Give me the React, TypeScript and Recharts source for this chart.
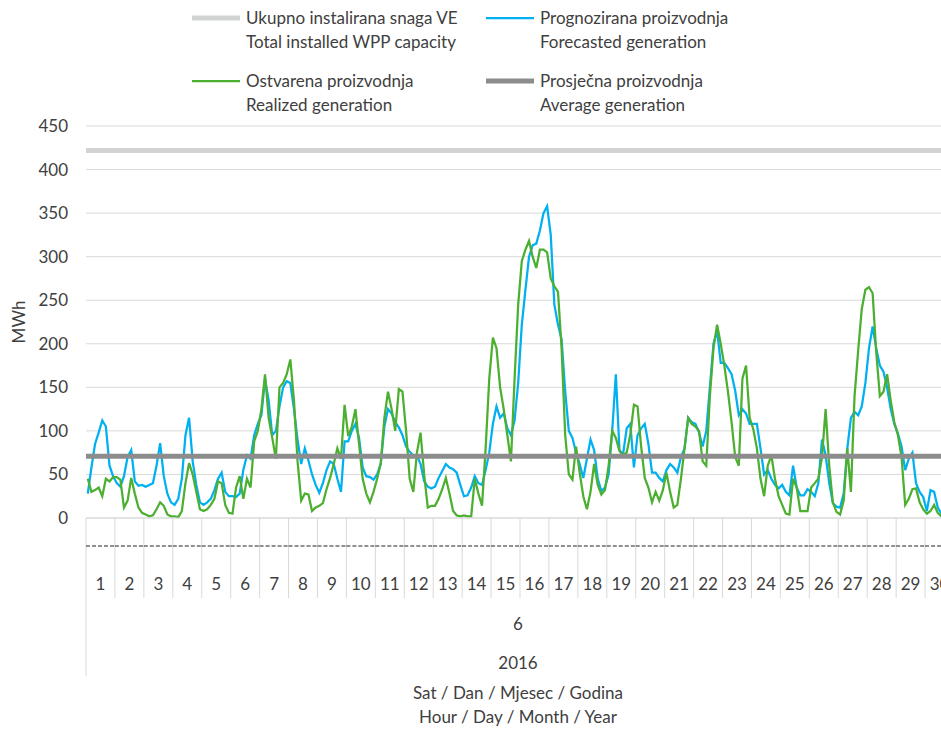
import { LineChart, Line, XAxis, YAxis, CartesianGrid, ReferenceLine, Legend } from "recharts";

// y axis ticks (MWh)
const yTicks = [0, 50, 100, 150, 200, 250, 300, 350, 400, 450];

// category levels of the x axis: day / month / year
const dayLabels = [
  "1", "2", "3", "4", "5", "6", "7", "8", "9", "10",
  "11", "12", "13", "14", "15", "16", "17", "18", "19", "20",
  "21", "22", "23", "24", "25", "26", "27", "28", "29", "30",
];
const monthLabel = "6";
const yearLabel = "2016";

const installedCapacity = 422;
const averageGeneration = 71;

// forecasted generation, one value per 3 hours (8 per day), June 2016
const forecast = [
  28, 58, 85, 98, 112, 105, 60, 48,
  40, 36, 48, 70, 78, 42, 37, 38,
  36, 38, 40, 60, 86, 48, 28, 18,
  15, 22, 45, 95, 115, 65, 38, 18,
  15, 18, 22, 32, 45, 52, 30, 25,
  25, 24, 28, 55, 72, 68, 95, 108,
  118, 160, 135, 95, 100, 128, 150, 157,
  155, 125, 90, 62, 80, 66, 50, 38,
  29, 40, 55, 65, 62, 45, 30, 88,
  88, 100, 108, 92, 58, 48, 47, 44,
  50, 62, 105, 125, 120, 110, 104, 95,
  82, 76, 72, 72, 62, 42, 36, 34,
  36, 46, 54, 62, 58, 56, 52, 38,
  25, 26, 35, 48, 40, 38, 55, 75,
  108, 128, 115, 120, 103, 95, 112, 155,
  222, 262, 300, 313, 315, 330, 350, 358,
  325, 245, 222, 205, 145, 100, 92, 75,
  62, 46, 68, 90, 78, 45, 31, 35,
  50, 100, 165, 78, 73, 103, 108, 58,
  95, 103, 108, 85, 52, 52, 46, 42,
  55, 62, 58, 52, 70, 80, 115, 110,
  108, 98, 82, 100, 150, 200, 215, 178,
  178, 172, 165, 146, 118, 125, 120, 108,
  108, 108, 80, 50, 55, 45, 38, 34,
  38, 30, 26, 60, 35, 26, 26, 33,
  30, 25, 40, 90, 72, 40, 17, 13,
  12, 28, 80, 115, 122, 118, 128, 155,
  195, 220, 195, 175, 168, 150, 125, 108,
  97, 82, 55, 68, 75, 40, 30, 24,
  8, 32, 30, 12, 5, 8, 10, 12,
];

// realized generation, same resolution
const realized = [
  45, 30, 32, 35, 25, 45, 42, 47,
  47, 44, 12, 20, 46, 28, 12, 6,
  4, 2, 3, 10, 18, 14, 4, 2,
  2, 1, 8, 40, 63, 50, 30, 10,
  8, 10, 15, 22, 42, 40, 15, 6,
  5, 35, 48, 22, 45, 35, 88, 100,
  125, 165, 115, 92, 68, 150, 155, 165,
  182, 135, 65, 20, 28, 27, 8, 12,
  14, 17, 33, 46, 62, 80, 68, 130,
  94, 105, 125, 85, 45, 28, 18, 30,
  45, 63, 115, 145, 125, 100, 148, 145,
  100, 45, 30, 75, 98, 50, 12, 14,
  14, 22, 33, 46, 28, 8, 3, 2,
  3, 2, 2, 45, 28, 14, 80, 160,
  207, 195, 150, 125, 95, 65, 160, 245,
  295, 308, 318, 300, 287, 308, 308, 305,
  275, 266, 260, 195, 95, 50, 44, 82,
  52, 25, 10, 30, 62, 38, 27, 32,
  60, 100, 92, 77, 72, 75, 96, 130,
  128, 82, 46, 35, 18, 30, 20, 32,
  52, 30, 12, 15, 45, 80, 115, 108,
  105, 100, 65, 60, 140, 195, 222, 200,
  175, 145, 110, 70, 60, 160, 175, 115,
  102, 80, 45, 25, 60, 72, 45, 25,
  15, 5, 4, 45, 35, 8, 8, 8,
  35, 40, 45, 70, 125, 60, 18, 7,
  4, 20, 80, 30, 140, 192, 240, 262,
  265, 258, 190, 140, 145, 165, 135, 110,
  95, 70, 15, 22, 33, 34, 18, 10,
  5, 8, 15, 6, 2, 3, 5, 6,
];

const legendItems = [
  { hr: "Ukupno instalirana snaga VE", en: "Total installed WPP capacity", color: "#d1d3d4", w: 5 },
  { hr: "Prognozirana proizvodnja", en: "Forecasted generation", color: "#00b0f0", w: 2.25 },
  { hr: "Ostvarena proizvodnja", en: "Realized generation", color: "#4caf30", w: 2.25 },
  { hr: "Prosječna proizvodnja", en: "Average generation", color: "#8c8c8c", w: 5 },
];

const FONT = "Lato, 'Open Sans', sans-serif";
const TEXT = "#404040";
const GRID = "#d9d9d9";

const CHART_W = 975;
const CHART_H = 729;
const MARGIN = { top: 126, right: 21, bottom: 11, left: 0 };
const Y_AXIS_W = 86;
const X_AXIS_H = 200;
const HOURS = dayLabels.length * 24;
const DAY_W = (CHART_W - MARGIN.left - MARGIN.right - Y_AXIS_W) / dayLabels.length;

const data = forecast.map((v, i) => ({ t: i * 3 + 1.5, forecast: v, realized: realized[i] }));
const dayBounds = dayLabels.map((_, i) => i * 24).concat(HOURS);

function DayTick(props: any) {
  const { x, y, payload, index } = props;
  const first = payload.value === 0;
  const last = payload.value === HOURS;
  return (
    <g>
      <line x1={x} x2={x} y1={y} y2={y + (first ? 158 : 80)} stroke={GRID} strokeWidth={1} />
      {!last && (
        <>
          <line x1={x} x2={x + DAY_W} y1={y + 28} y2={y + 28} stroke="#222" strokeWidth={1} strokeDasharray="4 2" />
          <text x={x + DAY_W / 2} y={y + 65} textAnchor="middle" dominantBaseline="central"
            fill={TEXT} fontSize={17} fontFamily={FONT}>
            {dayLabels[index]}
          </text>
        </>
      )}
    </g>
  );
}

function XAxisTitle(props: any) {
  const vb = props.viewBox || {};
  const cx = (vb.x ?? Y_AXIS_W) + (vb.width ?? DAY_W * 30) / 2 - 2;
  const top = vb.y ?? CHART_H - MARGIN.bottom - X_AXIS_H;
  const t = { textAnchor: "middle" as const, dominantBaseline: "central" as const, fill: TEXT, fontSize: 17, fontFamily: FONT };
  return (
    <g>
      <text x={cx} y={top + 105} {...t}>{monthLabel}</text>
      <text x={cx} y={top + 144} {...t}>{yearLabel}</text>
      <text x={cx} y={top + 174} {...t}>Sat / Dan / Mjesec / Godina</text>
      <text x={cx} y={top + 198} {...t}>Hour / Day / Month / Year</text>
    </g>
  );
}

function YAxisTitle(props: any) {
  const vb = props.viewBox || {};
  const cy = (vb.y ?? MARGIN.top) + (vb.height ?? 392) / 2;
  return (
    <text x={18} y={cy} transform={`rotate(-90, 18, ${cy})`} textAnchor="middle" dominantBaseline="central"
      fill={TEXT} fontSize={17} fontFamily={FONT}>
      MWh
    </text>
  );
}

function LegendBox() {
  const pos = [
    { left: 192, top: 6 },
    { left: 486, top: 6 },
    { left: 192, top: 69 },
    { left: 486, top: 69 },
  ];
  return (
    <div style={{ position: "relative", width: 941, height: 120, fontFamily: FONT, fontSize: 17, color: TEXT }}>
      {legendItems.map((item, i) => (
        <div key={item.hr} style={{ position: "absolute", left: pos[i].left, top: pos[i].top, display: "flex" }}>
          <svg width={48} height={24} style={{ display: "block", marginRight: 6 }}>
            <line x1={0} x2={48} y1={12} y2={12} stroke={item.color} strokeWidth={item.w} />
          </svg>
          <div style={{ lineHeight: "24px", whiteSpace: "nowrap" }}>
            <div>{item.hr}</div>
            <div>{item.en}</div>
          </div>
        </div>
      ))}
    </div>
  );
}

export default function App() {
  return (
    <div style={{ position: "absolute", left: 0, top: 0, width: 941, height: 729, overflow: "hidden", background: "#fff" }}>
      <LineChart width={CHART_W} height={CHART_H} data={data} margin={MARGIN}>
        <CartesianGrid horizontal vertical={false} stroke={GRID} />
        <XAxis
          dataKey="t"
          type="number"
          domain={[0, HOURS]}
          ticks={dayBounds}
          interval={0}
          height={X_AXIS_H}
          tickSize={0}
          tickMargin={0}
          tickLine={false}
          axisLine={{ stroke: GRID }}
          tick={<DayTick />}
          label={<XAxisTitle />}
          allowDataOverflow
        />
        <YAxis
          width={Y_AXIS_W}
          domain={[0, 450]}
          ticks={yTicks}
          interval={0}
          tickLine={false}
          axisLine={false}
          tickMargin={12}
          tick={{ fill: TEXT, fontSize: 17, fontFamily: FONT }}
          label={<YAxisTitle />}
        />
        <Legend
          content={<LegendBox />}
          layout="horizontal"
          verticalAlign="middle"
          align="center"
          wrapperStyle={{ top: 0, left: 0, width: 941, height: 120 }}
        />
        <Line type="linear" dataKey="forecast" stroke="#00b0f0" strokeWidth={2.25} dot={false} isAnimationActive={false} />
        <Line type="linear" dataKey="realized" stroke="#4caf30" strokeWidth={2.25} dot={false} isAnimationActive={false} />
        <ReferenceLine y={installedCapacity} stroke="#d1d3d4" strokeWidth={5} />
        <ReferenceLine y={averageGeneration} stroke="#8c8c8c" strokeWidth={5} />
      </LineChart>
    </div>
  );
}
